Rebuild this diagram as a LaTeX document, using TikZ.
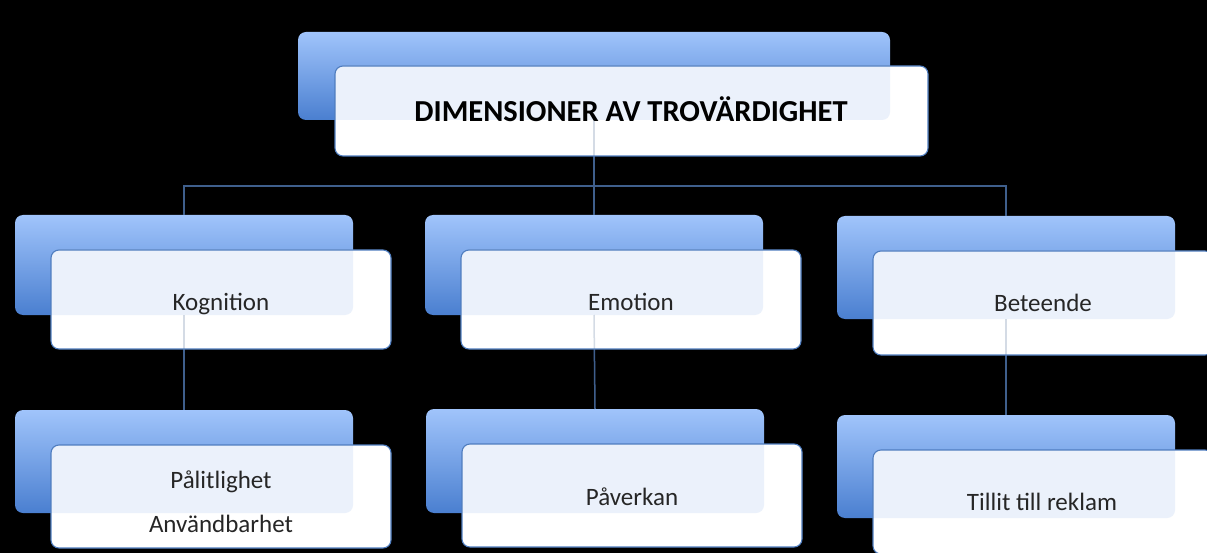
\documentclass[tikz,border=0pt]{standalone}
\usepackage{fontspec}
\setmainfont{Carlito}
\definecolor{bktop}{HTML}{A0C4FB}
\definecolor{bkbot}{HTML}{4A7FD0}
\definecolor{tintc}{HTML}{EBF1FB}
\definecolor{fbordc}{HTML}{4F7DBF}
\definecolor{connc}{HTML}{3F5F8C}
\tikzset{
  backbox/.style={rectangle, rounded corners=8pt, top color=bktop, bottom color=bkbot, draw=none, inner sep=0pt, outer sep=0pt, anchor=north west},
  frontbox/.style={rectangle, rounded corners=8pt, fill=white, draw=none, inner sep=0pt, outer sep=0pt, anchor=north west},
  fborder/.style={draw=fbordc, line width=1.1pt, rounded corners=8pt},
  conn/.style={draw=connc, line width=1.5pt},
  lbl/.style={anchor=base, font=\fontsize{25}{30}\selectfont, text=black!85},
  ttl/.style={anchor=base, font=\bfseries\fontsize{30.5}{35}\selectfont, text=black},
}
\newcommand\myconns[1]{%
  \draw[conn,#1] (b0.south) -- (b0.south |- busy);
  \draw[conn,#1] (b1.north) |- (b3.north |- busy) -- (b3.north);
  \draw[conn,#1] (b2.north) -- (b2.north |- busy);
  \draw[conn,#1] (b1.south) -- (b4.north);
  \draw[conn,#1] (b2.south) -- (b5.north);
  \draw[conn,#1] (b3.south) -- (b6.north);
}
\newcommand\mytint[2]{%
  \begin{scope}
    \clip[rounded corners=8pt] (#1.south west) rectangle (#1.north east);
    \fill[tintc, rounded corners=8pt] (#2.south west) rectangle (#2.north east);
  \end{scope}
}
\begin{document}
\begin{tikzpicture}[x=1pt,y=-1pt]
\fill[black] (0,0) rectangle (1207,553);
\useasboundingbox (0,0) rectangle (1207,553);
\clip (0,0) rectangle (1207,553);
\coordinate (busy) at (0,186);
% back boxes
\node[backbox, minimum width=592pt, minimum height=88pt] (b0) at (298,32) {};
\node[backbox, minimum width=338pt, minimum height=100pt] (b1) at (15,215) {};
\node[backbox, minimum width=338pt, minimum height=100pt] (b2) at (425,215) {};
\node[backbox, minimum width=338pt, minimum height=103pt] (b3) at (837,216) {};
\node[backbox, minimum width=338pt, minimum height=103pt] (b4) at (15,410) {};
\node[backbox, minimum width=338pt, minimum height=104pt] (b5) at (426,409) {};
\node[backbox, minimum width=338pt, minimum height=103pt] (b6) at (837,415) {};
% connectors
\myconns{}
% front boxes
\node[frontbox, minimum width=593pt, minimum height=90pt] (f0) at (335,66) {};
\node[frontbox, minimum width=340pt, minimum height=99pt] (f1) at (51,250) {};
\node[frontbox, minimum width=340pt, minimum height=99pt] (f2) at (461,250) {};
\node[frontbox, minimum width=340pt, minimum height=104pt] (f3) at (873,251) {};
\node[frontbox, minimum width=340pt, minimum height=103pt] (f4) at (51,445) {};
\node[frontbox, minimum width=340pt, minimum height=103pt] (f5) at (462,444) {};
\node[frontbox, minimum width=340pt, minimum height=104pt] (f6) at (873,450) {};
\mytint{b0}{f0}
\mytint{b1}{f1}
\mytint{b2}{f2}
\mytint{b3}{f3}
\mytint{b4}{f4}
\mytint{b5}{f5}
\mytint{b6}{f6}
\myconns{opacity=0.22}
\foreach \f in {f0,f1,f2,f3,f4,f5,f6}{
  \draw[fborder] (\f.south west) rectangle (\f.north east);
}
% texts
\node[ttl] (t0) at (631,122) {DIMENSIONER AV TROVÄRDIGHET};
\node[lbl] (t1) at (221,310) {Kognition};
\node[lbl] (t2) at (631,310) {Emotion};
\node[lbl] (t3) at (1043,312) {Beteende};
\node[lbl] (t4a) at (221,488) {Pålitlighet};
\node[lbl] (t4b) at (221,532) {Användbarhet};
\node[lbl] (t5) at (632,505) {Påverkan};
\node[lbl] (t6) at (1042,510) {Tillit till reklam};
\end{tikzpicture}
\end{document}
